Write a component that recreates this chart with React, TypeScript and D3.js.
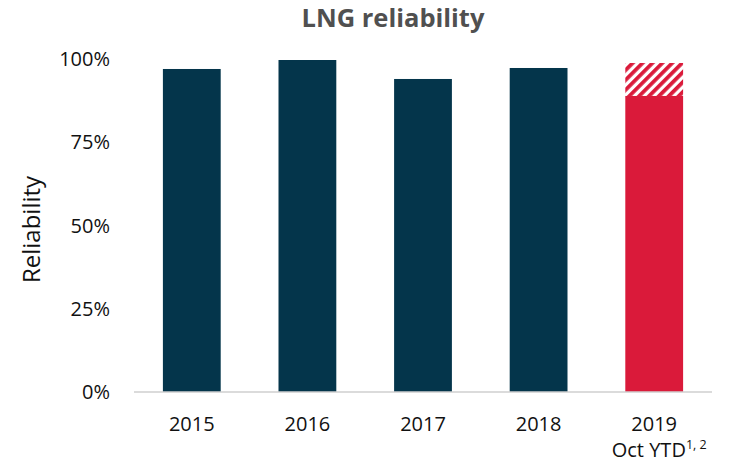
import React from "react";
import * as d3 from "d3";

const categories = ["2015", "2016", "2017", "2018", "2019"];
const reliability = [97.0, 99.7, 94.0, 97.3, 88.9];
const extraHatched = [0, 0, 0, 0, 9.9];
const yTicks = [0, 25, 50, 75, 100];

const W = 740;
const H = 463;
const margin = { left: 134, right: 28, top: 59, bottom: 71 };

export default function App() {
  const x = d3
    .scaleBand<string>()
    .domain(categories)
    .range([margin.left, W - margin.right])
    .paddingInner(0.5)
    .paddingOuter(0.25);
  const y = d3.scaleLinear().domain([0, 100]).range([H - margin.bottom, margin.top]);
  const font = "'Open Sans', sans-serif";
  const navy = "#04354B";
  const red = "#DA1A3A";
  return (
    <svg width={W} height={H} style={{ position: "absolute", left: 0, top: 0 }} fontFamily={font}>
      <defs>
        <pattern id="hatch" patternUnits="userSpaceOnUse" width="7" height="7" patternTransform="rotate(45)">
          <rect width="7" height="7" fill="#fff" />
          <rect width="3.8" height="7" fill={red} />
        </pattern>
      </defs>
      <text x={393} y={27} textAnchor="middle" fontSize={25.5} fontWeight={700} fill="#505050">
        LNG reliability
      </text>
      <text
        transform={`translate(40, 229.5) rotate(-90)`}
        textAnchor="middle"
        fontSize={24}
        fill="#111"
      >
        Reliability
      </text>
      {yTicks.map((t) => (
        <text key={t} x={110} y={y(t)} dy="0.36em" textAnchor="end" fontSize={20} fill="#111">
          {t}%
        </text>
      ))}
      {categories.map((c, i) => {
        const isLast = i === categories.length - 1;
        return (
          <g key={c}>
            {extraHatched[i] > 0 && (
              <rect
                x={x(c)}
                width={x.bandwidth()}
                y={y(reliability[i] + extraHatched[i])}
                height={y(reliability[i]) - y(reliability[i] + extraHatched[i])}
                fill="url(#hatch)"
              />
            )}
            <rect
              x={x(c)}
              width={x.bandwidth()}
              y={y(reliability[i])}
              height={y(0) - y(reliability[i])}
              fill={isLast ? red : navy}
            />
          </g>
        );
      })}
      <line x1={margin.left} x2={W - margin.right} y1={y(0)} y2={y(0)} stroke="#cfcfcf" strokeWidth={1.5} />
      {categories.map((c, i) => {
        const cx = (x(c) as number) + x.bandwidth() / 2;
        return (
          <g key={"l" + c}>
            <text x={cx} y={431} textAnchor="middle" fontSize={20} fill="#111">
              {c}
            </text>
            {i === categories.length - 1 && (
              <text x={cx + 5} y={457} textAnchor="middle" fontSize={20} fill="#111">
                Oct YTD
                <tspan fontSize={12.5} dy={-8}>
                  1, 2
                </tspan>
              </text>
            )}
          </g>
        );
      })}
    </svg>
  );
}
